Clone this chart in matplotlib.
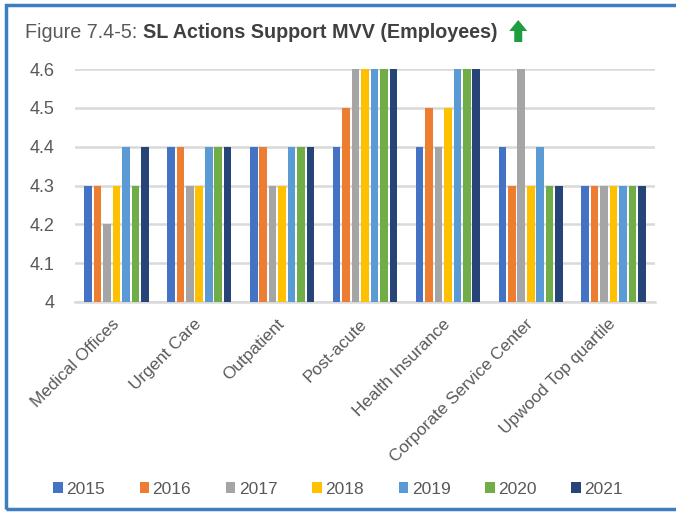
import matplotlib
matplotlib.use("Agg")
import matplotlib.pyplot as plt
from matplotlib.patches import Rectangle, Polygon
import numpy as np

plt.rcParams['font.family'] = ['Liberation Sans', 'DejaVu Sans']

categories = ["Medical Offices", "Urgent Care", "Outpatient", "Post-acute",
              "Health Insurance", "Corporate Service Center", "Upwood Top quartile"]
years = ["2015", "2016", "2017", "2018", "2019", "2020", "2021"]
colors = ["#4472C4", "#ED7D31", "#A5A5A5", "#FFC000", "#5B9BD5", "#70AD47", "#264478"]

# scores per category, one list per year
y2015 = [4.3, 4.4, 4.4, 4.4, 4.4, 4.4, 4.3]
y2016 = [4.3, 4.4, 4.4, 4.5, 4.5, 4.3, 4.3]
y2017 = [4.2, 4.3, 4.3, 4.6, 4.4, 4.6, 4.3]
y2018 = [4.3, 4.3, 4.3, 4.6, 4.5, 4.3, 4.3]
y2019 = [4.4, 4.4, 4.4, 4.6, 4.6, 4.4, 4.3]
y2020 = [4.3, 4.4, 4.4, 4.6, 4.6, 4.3, 4.3]
y2021 = [4.4, 4.4, 4.4, 4.6, 4.6, 4.3, 4.3]
series = [y2015, y2016, y2017, y2018, y2019, y2020, y2021]

W, H = 676, 514
fig = plt.figure(figsize=(W / 100, H / 100), dpi=100)
ax = fig.add_axes([75 / W, 1 - 302 / H, 580 / W, 233 / H])

txt = "#595959"
x = np.arange(len(categories))
slot = 0.8 / len(years)
for i, (vals, c, yr) in enumerate(zip(series, colors, years)):
    ax.bar(x - 0.4 + slot * (i + 0.5), vals, width=slot * 0.8, color=c, label=yr, zorder=3)

ax.set_ylim(4, 4.6)
ax.set_xlim(-0.5, len(categories) - 0.5)
ax.set_yticks([4, 4.1, 4.2, 4.3, 4.4, 4.5, 4.6])
ax.set_yticklabels(["4", "4.1", "4.2", "4.3", "4.4", "4.5", "4.6"])
ax.grid(axis='y', color="#d9d9d9", linewidth=1.8, zorder=0)
for s in ["left", "right", "top"]:
    ax.spines[s].set_visible(False)
ax.spines["bottom"].set_color("#d9d9d9")
ax.spines["bottom"].set_linewidth(1.8)
ax.tick_params(axis='y', length=0, pad=15, labelsize=13, labelcolor=txt)
ax.tick_params(axis='x', length=0, pad=14, labelcolor=txt)
ax.set_xticks(x)
ax.set_xticklabels(categories, rotation=45, ha='right', va='center', rotation_mode='anchor',
                   fontsize=12.3)

leg = fig.legend(loc='center', bbox_to_anchor=(338 / W, 1 - 489 / H), ncol=7, frameon=False,
                 fontsize=12.5, handlelength=0.55, handleheight=0.6, handletextpad=0.2,
                 columnspacing=2.0)
for t in leg.get_texts():
    t.set_color(txt)

# title: plain prefix then bold part
t1 = fig.text(25 / W, 1 - 33 / H, "Figure 7.4-5: ", fontsize=14.2, color=txt, va='center')
fig.canvas.draw()
bb = t1.get_window_extent()
t2 = fig.text(bb.x1 / W, 1 - 33 / H, "SL Actions Support MVV (Employees)", fontsize=14.2,
              color="#404040", fontweight='bold', va='center')
fig.canvas.draw()
ex = t2.get_window_extent().x1 + 12

# green up arrow
arrow = [(ex + 9, 20), (ex + 18, 31), (ex + 13, 31), (ex + 13, 42), (ex + 5, 42), (ex + 5, 31), (ex, 31)]
fig.patches.append(Polygon([(px / W, 1 - py / H) for px, py in arrow], closed=True,
                           transform=fig.transFigure, facecolor="#1e9e3e", edgecolor="none"))

# frame around the figure
fig.patches.append(Rectangle((6 / W, 1 - 509 / H), 700 / W, 504 / H, transform=fig.transFigure,
                             fill=False, edgecolor="#3c7fc0", linewidth=2.5))

fig.savefig("out.png", dpi=100)
